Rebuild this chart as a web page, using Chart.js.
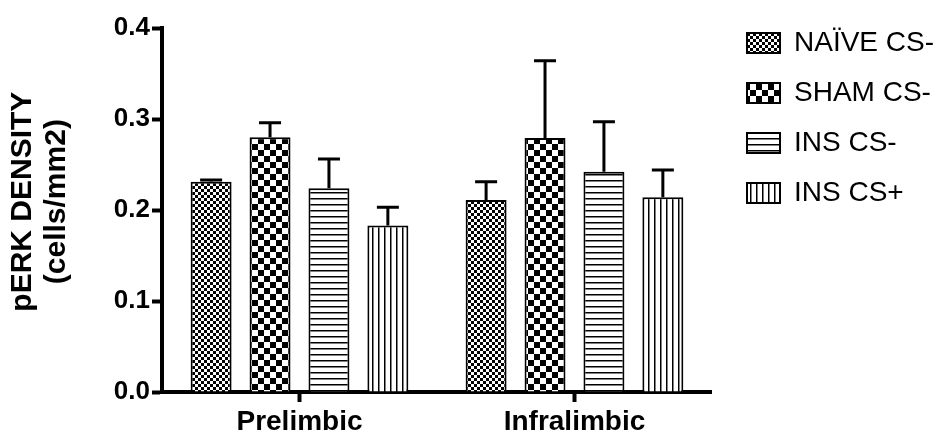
<!DOCTYPE html>
<html>
<head>
<meta charset="utf-8">
<title>pERK density</title>
<script src="https://cdn.jsdelivr.net/npm/chart.js@4.4.1/dist/chart.umd.min.js"></script>
<style>
    html, body { margin: 0; padding: 0; background: #fff; }
    #wrap { width: 947px; height: 434px; }
</style>
</head>
<body>
<div id="wrap"><canvas id="perkChart" width="947" height="434"></canvas></div>
<script>
// data
var categories = ['Prelimbic', 'Infralimbic'];
var seriesNames = ['NAÏVE CS-', 'SHAM CS-', 'INS CS-', 'INS CS+'];
var naiveMean = [0.231, 0.211];
var shamMean = [0.280, 0.279];
var insMinusMean = [0.224, 0.242];
var insPlusMean = [0.183, 0.214];
var naiveErr = [0.002, 0.020];
var shamErr = [0.016, 0.085];
var insMinusErr = [0.032, 0.055];
var insPlusErr = [0.020, 0.030];
var yTicks = [0.0, 0.1, 0.2, 0.3, 0.4];

var FONT = '"Liberation Sans", Arial, Helvetica, sans-serif';

// fill patterns, one per group
var makePattern = function(kind) {
    var c = document.createElement('canvas');
    var g = c.getContext('2d');
    var s;
    if (kind === 'fineCheck') {
        s = 6; c.width = s; c.height = s;
        g.fillStyle = '#fff'; g.fillRect(0, 0, s, s);
        g.fillStyle = '#000';
        g.fillRect(0, 0, 3, 3); g.fillRect(3, 3, 3, 3);
    } else if (kind === 'bigCheck') {
        s = 12; c.width = s; c.height = s;
        g.fillStyle = '#fff'; g.fillRect(0, 0, s, s);
        g.fillStyle = '#000';
        g.fillRect(0, 0, 6, 6); g.fillRect(6, 6, 6, 6);
    } else if (kind === 'hLines') {
        c.width = 6; c.height = 6;
        g.fillStyle = '#fff'; g.fillRect(0, 0, 6, 6);
        g.fillStyle = '#000'; g.fillRect(0, 0, 6, 1.5);
    } else {
        c.width = 6; c.height = 6;
        g.fillStyle = '#fff'; g.fillRect(0, 0, 6, 6);
        g.fillStyle = '#000'; g.fillRect(0, 0, 1.5, 6);
    }
    return g.createPattern(c, 'repeat');
};

// upward-only SEM whiskers
var errorBars = {
    id: 'errorBars',
    afterDatasetsDraw: function(chart) {
        var ctx = chart.ctx;
        var yScale = chart.scales.y;
        ctx.save();
        ctx.strokeStyle = '#000';
        ctx.lineWidth = 3;
        ctx.lineCap = 'butt';
        chart.data.datasets.forEach(function(ds, di) {
            var meta = chart.getDatasetMeta(di);
            meta.data.forEach(function(bar, i) {
                var top = yScale.getPixelForValue(ds.data[i] + ds.errors[i]);
                ctx.beginPath();
                ctx.moveTo(bar.x, bar.y);
                ctx.lineTo(bar.x, top);
                ctx.moveTo(bar.x - 11, top);
                ctx.lineTo(bar.x + 11, top);
                ctx.stroke();
            });
        });
        ctx.restore();
    }
};

// nudge the legend up and right, like the original layout
var legendPlace = {
    id: 'legendPlace',
    afterLayout: function(chart) {
        var lg = chart.legend;
        if (!lg) return;
        var w = lg.width, h = lg.height;
        lg.left = 725; lg.right = lg.left + w;
        lg.top = 7; lg.bottom = lg.top + h;
    }
};

var makeSet = function(i, data, errs, kind) {
    return {
        label: seriesNames[i],
        data: data,
        errors: errs,
        backgroundColor: makePattern(kind),
        borderColor: '#000',
        borderWidth: 2,
        categoryPercentage: 0.857,
        barPercentage: 0.695
    };
};

new Chart(document.getElementById('perkChart'), {
    type: 'bar',
    data: {
        labels: categories,
        datasets: [
            makeSet(0, naiveMean, naiveErr, 'fineCheck'),
            makeSet(1, shamMean, shamErr, 'bigCheck'),
            makeSet(2, insMinusMean, insMinusErr, 'hLines'),
            makeSet(3, insPlusMean, insPlusErr, 'vLines')
        ]
    },
    options: {
        responsive: false,
        animation: false,
        layout: { padding: { top: 28, left: 0, right: 16, bottom: 0 } },
        plugins: {
            tooltip: { enabled: false },
            legend: {
                position: 'right',
                align: 'start',
                labels: {
                    boxWidth: 33,
                    boxHeight: 20,
                    padding: 22,
                    color: '#000',
                    font: { family: FONT, size: 28 }
                }
            }
        },
        scales: {
            x: {
                offset: true,
                grid: { display: true, offset: false, drawOnChartArea: false, tickLength: 10, tickWidth: 4, tickColor: '#000' },
                border: { display: true, width: 4, color: '#000' },
                ticks: { color: '#000', padding: 3, font: { family: FONT, size: 28, weight: 'bold' } },
                afterFit: function(scale) { scale.height = 42; }
            },
            y: {
                min: 0,
                max: 0.4,
                afterBuildTicks: function(scale) {
                    scale.ticks = yTicks.map(function(v) { return { value: v }; });
                },
                grid: { display: true, drawOnChartArea: false, tickLength: 10, tickWidth: 4, tickColor: '#000' },
                border: { display: true, width: 4, color: '#000' },
                ticks: {
                    color: '#000',
                    padding: 2,
                    font: { family: FONT, size: 26, weight: 'bold' },
                    callback: function(v) { return Number(v).toFixed(1); }
                },
                title: {
                    display: true,
                    // leading spaces lift the centred title a little, as in the figure
                    text: ['  pERK DENSITY', '  (cells/mm2)'],
                    color: '#000',
                    padding: { top: 6, bottom: 0 },
                    font: { family: FONT, size: 30, weight: 'bold', lineHeight: 1.13 }
                },
                afterFit: function(scale) { scale.width = 162; }
            }
        }
    },
    plugins: [errorBars, legendPlace]
});
</script>
</body>
</html>
